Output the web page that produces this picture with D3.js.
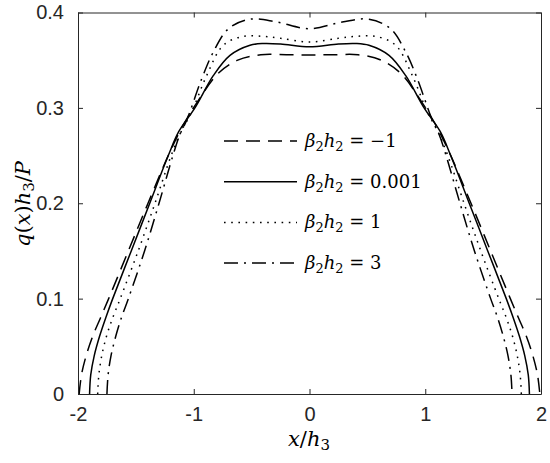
<!DOCTYPE html>
<html>
<head>
<meta charset="utf-8">
<script src="https://cdn.jsdelivr.net/npm/d3@7"></script>
<style>
  body { margin: 0; background: #fff; }
</style>
</head>
<body>
<svg width="550" height="463"></svg>
<script>
// left half of each curve as [x/h3, q h3/P]; the right half is its mirror image
var halfDashed = [[-1.99,0],[-1.97,0.02],[-1.93,0.04],[-1.875,0.06],[-1.805,0.08],[-1.735,0.10],[-1.565,0.15],[-1.395,0.20],[-1.22,0.25],[-1.10,0.28],[-0.97,0.306],[-0.79,0.336],[-0.62,0.350],[-0.42,0.3557],[-0.2,0.3557],[0,0.3555]];
var halfSolid = [[-1.90,0],[-1.89,0.02],[-1.86,0.04],[-1.815,0.06],[-1.76,0.08],[-1.70,0.10],[-1.54,0.15],[-1.38,0.20],[-1.22,0.25],[-1.13,0.275],[-0.99,0.30],[-0.83,0.334],[-0.687,0.355],[-0.514,0.3656],[-0.4,0.3675],[-0.25,0.367],[0,0.364]];
var halfDotted = [[-1.83,0],[-1.82,0.02],[-1.795,0.04],[-1.755,0.06],[-1.70,0.08],[-1.635,0.10],[-1.48,0.15],[-1.335,0.20],[-1.195,0.25],[-1.11,0.275],[-1.018,0.2957],[-0.888,0.334],[-0.745,0.3656],[-0.572,0.375],[-0.4,0.375],[-0.25,0.373],[0,0.369]];
var halfDashDot = [[-1.75,0],[-1.74,0.02],[-1.715,0.04],[-1.675,0.06],[-1.625,0.08],[-1.565,0.10],[-1.425,0.15],[-1.30,0.20],[-1.18,0.25],[-1.12,0.272],[-1.061,0.287],[-0.931,0.3306],[-0.831,0.3586],[-0.70,0.383],[-0.514,0.393],[-0.283,0.390],[0,0.383]];

var legendValues = ["\u22121", "0.001", "1", "3"];
var xTicks = [-2, -1, 0, 1, 2];
var yTicks = [0, 0.1, 0.2, 0.3, 0.4];

function mirror(half) {
  var right = half.slice(0, -1).reverse().map(function(d) { return [-d[0], d[1]]; });
  return half.concat(right);
}

var series = [
  {data: mirror(halfDashed), dash: "14,8", label: legendValues[0]},
  {data: mirror(halfSolid), dash: null, label: legendValues[1]},
  {data: mirror(halfDotted), dash: "1.6,5.6", label: legendValues[2]},
  {data: mirror(halfDashDot), dash: "14,6,2,6", label: legendValues[3]}
];

var serif = "'DejaVu Serif', serif";
var sans = "'Liberation Sans', Arial, sans-serif";

var svg = d3.select("svg");
var margin = {left: 78, right: 9, top: 12.5, bottom: 69};
var width = 550 - margin.left - margin.right,
    height = 463 - margin.top - margin.bottom;

var x = d3.scaleLinear().domain([-2, 2]).range([0, width]);
var y = d3.scaleLinear().domain([0, 0.4]).range([height, 0]);

var g = svg.append("g").attr("transform", "translate(" + margin.left + "," + margin.top + ")");

var line = d3.line()
    .x(function(d) { return x(d[0]); })
    .y(function(d) { return y(d[1]); })
    .curve(d3.curveCatmullRom.alpha(0.5));

g.append("g").selectAll("path")
  .data(series)
  .enter().append("path")
    .attr("d", function(d) { return line(d.data); })
    .attr("fill", "none")
    .attr("stroke", "#000")
    .attr("stroke-width", 1.5)
    .attr("stroke-dasharray", function(d) { return d.dash; });

// axes: ticks point inward, mirrored on top and right
function styleAxis(sel) {
  sel.select(".domain").attr("stroke", "#262626").attr("stroke-width", 1);
  sel.selectAll(".tick line").attr("stroke", "#262626");
  sel.selectAll(".tick text").style("font-family", sans).attr("font-size", 20).attr("fill", "#262626");
}

g.append("g")
    .attr("transform", "translate(0," + height + ")")
    .call(d3.axisBottom(x).tickValues(xTicks).tickSize(-5).tickSizeOuter(0).tickPadding(13)
      .tickFormat(function(d) { return String(d); }))
    .call(styleAxis);

g.append("g")
    .call(d3.axisLeft(y).tickValues(yTicks).tickSize(-5).tickSizeOuter(0).tickPadding(14)
      .tickFormat(function(d) { return d === 0 ? "0" : d3.format(".1f")(d); }))
    .call(styleAxis);

g.append("g")
    .call(d3.axisTop(x).tickValues(xTicks).tickSize(-5).tickSizeOuter(0).tickFormat(""))
    .call(styleAxis);

g.append("g")
    .attr("transform", "translate(" + width + ",0)")
    .call(d3.axisRight(y).tickValues(yTicks).tickSize(-5).tickSizeOuter(0).tickFormat(""))
    .call(styleAxis);

// legend
var legend = g.append("g").attr("transform", "translate(" + (224 - margin.left) + "," + (141 - margin.top) + ")");
var rows = legend.selectAll("g")
  .data(series)
  .enter().append("g")
    .attr("transform", function(d, i) { return "translate(0," + (i * 40.7) + ")"; });

rows.append("line")
    .attr("x1", 0).attr("x2", 73)
    .attr("stroke", "#000")
    .attr("stroke-width", 1.5)
    .attr("stroke-dasharray", function(d) { return d.dash; });

var lt = rows.append("text")
    .attr("x", 81)
    .attr("y", 6)
    .style("font-family", serif)
    .attr("font-size", 18)
    .attr("fill", "#000");
lt.append("tspan").attr("font-style", "italic").text("\u03b2");
lt.append("tspan").attr("font-size", 13).attr("dy", 4).text("2");
lt.append("tspan").attr("font-style", "italic").attr("dy", -4).text("h");
lt.append("tspan").attr("font-size", 13).attr("dy", 4).text("2");
lt.append("tspan").attr("dy", -4).text(function(d) { return " = " + d.label; });

// axis labels
var xl = svg.append("text")
    .attr("x", 309)
    .attr("y", 446)
    .attr("text-anchor", "middle")
    .style("font-family", serif)
    .attr("font-size", 21)
    .attr("fill", "#000");
xl.append("tspan").attr("font-style", "italic").text("x");
xl.append("tspan").text("/");
xl.append("tspan").attr("font-style", "italic").text("h");
xl.append("tspan").attr("font-size", 15).attr("dy", 4).text("3");

var yl = svg.append("text")
    .attr("transform", "translate(30,204) rotate(-90)")
    .attr("text-anchor", "middle")
    .style("font-family", serif)
    .attr("font-size", 21)
    .attr("fill", "#000");
yl.append("tspan").attr("font-style", "italic").text("q");
yl.append("tspan").text("(");
yl.append("tspan").attr("font-style", "italic").text("x");
yl.append("tspan").text(")");
yl.append("tspan").attr("font-style", "italic").text("h");
yl.append("tspan").attr("font-size", 15).attr("dy", 4).text("3");
yl.append("tspan").attr("dy", -4).text("/");
yl.append("tspan").attr("font-style", "italic").text("P");
</script>
</body>
</html>
